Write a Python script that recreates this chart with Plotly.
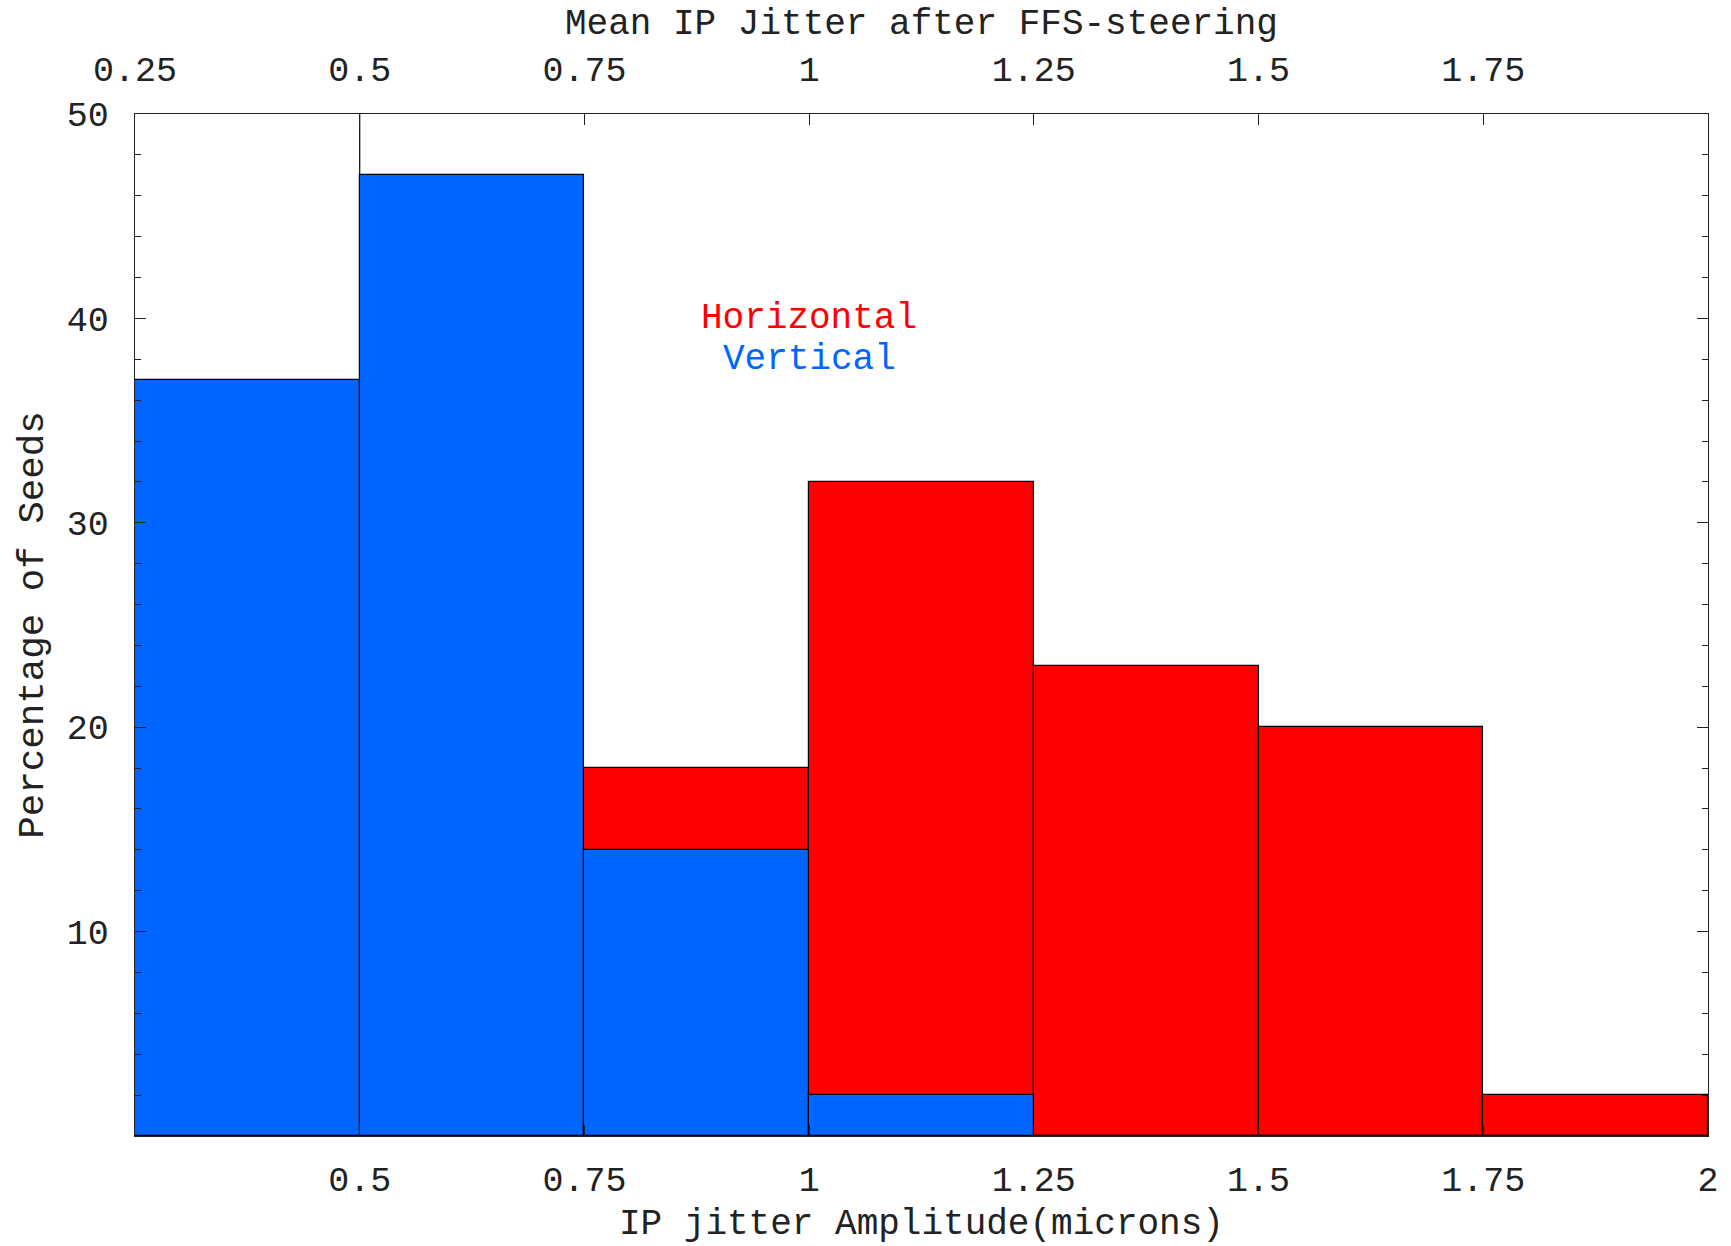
import plotly.graph_objects as go

# ---- data ----
bin_edges = [0.25, 0.5, 0.75, 1.0, 1.25, 1.5, 1.75, 2.0]
horizontal = [0, 0, 18, 32, 23, 20, 2]
vertical = [37, 47, 14, 2, 0, 0, 0]
bottom_ticks = [0.5, 0.75, 1, 1.25, 1.5, 1.75, 2]
bottom_labels = ["0.5", "0.75", "1", "1.25", "1.5", "1.75", "2"]
top_ticks = [0.25, 0.5, 0.75, 1, 1.25, 1.5, 1.75]
top_labels = ["0.25", "0.5", "0.75", "1", "1.25", "1.5", "1.75"]
y_ticks = [10, 20, 30, 40, 50]

FONT = "Liberation Mono, Courier New, monospace"
FS = 35
FT = 36
BLUE = "#0066FF"
RED = "#FF0000"

centers = [(a + b) / 2 for a, b in zip(bin_edges[:-1], bin_edges[1:])]
widths = [b - a for a, b in zip(bin_edges[:-1], bin_edges[1:])]

fig = go.Figure()
fig.add_trace(go.Bar(x=centers, y=horizontal, width=widths, name="Horizontal",
                     marker=dict(color=RED, line=dict(color="black", width=1.2))))
fig.add_trace(go.Bar(x=centers, y=vertical, width=widths, name="Vertical",
                     marker=dict(color=BLUE, line=dict(color="black", width=1.2))))
# thin divider line above the tallest bin edge, as in the original
fig.add_trace(go.Scatter(x=[bin_edges[1], bin_edges[1]], y=[vertical[1], 50],
                         mode="lines", line=dict(color="black", width=1.2),
                         showlegend=False, hoverinfo="skip"))
# dummy trace for top axis
fig.add_trace(go.Scatter(x=[bin_edges[0], bin_edges[-1]], y=[0, 0], xaxis="x2",
                         mode="markers", marker=dict(opacity=0), showlegend=False,
                         hoverinfo="skip"))

axis_common = dict(showline=True, linecolor="#222", linewidth=1.3, showgrid=False,
                   zeroline=False, ticks="inside", tickcolor="#222", tickwidth=1.3,
                   tickfont=dict(family=FONT, size=FS, color="#222"))

fig.update_layout(
    width=1731, height=1246,
    margin=dict(l=135, r=21, t=114, b=110),
    paper_bgcolor="white", plot_bgcolor="white",
    barmode="overlay", bargap=0, showlegend=False,
    xaxis=dict(range=[bin_edges[0], bin_edges[-1]], tickvals=bottom_ticks,
               ticktext=bottom_labels, ticklen=11, ticklabelstandoff=12, **axis_common),
    xaxis2=dict(range=[bin_edges[0], bin_edges[-1]], overlaying="x", side="top",
                tickvals=top_ticks, ticktext=top_labels, ticklen=11,
                ticklabelstandoff=18, **axis_common),
    yaxis=dict(range=[0, 50], tickvals=y_ticks, ticklen=11, mirror="ticks",
               ticklabelstandoff=18,
               minor=dict(dtick=2, ticks="inside", ticklen=6, tickcolor="#222",
                          tickwidth=1.3, showgrid=False),
               **axis_common),
    annotations=[
        dict(text="Mean IP Jitter after FFS-steering", xref="paper", yref="paper",
             x=0.5, y=1.088, xanchor="center", yanchor="middle", showarrow=False,
             font=dict(family=FONT, size=FT, color="#222")),
        dict(text="IP jitter Amplitude(microns)", xref="paper", yref="paper",
             x=0.5, y=-0.087, xanchor="center", yanchor="middle", showarrow=False,
             font=dict(family=FONT, size=FT, color="#222")),
        dict(text="Percentage of Seeds", xref="paper", yref="paper",
             x=-0.065, y=0.5, xanchor="center", yanchor="middle", textangle=-90,
             showarrow=False, font=dict(family=FONT, size=37.5, color="#222")),
        dict(text="Horizontal", xref="x", yref="y", x=1.0, y=40, showarrow=False,
             xanchor="center", yanchor="middle", font=dict(family=FONT, size=FT, color=RED)),
        dict(text="Vertical", xref="x", yref="y", x=1.0, y=38, showarrow=False,
             xanchor="center", yanchor="middle", font=dict(family=FONT, size=FT, color=BLUE)),
    ],
)

fig.write_html("out.html")
